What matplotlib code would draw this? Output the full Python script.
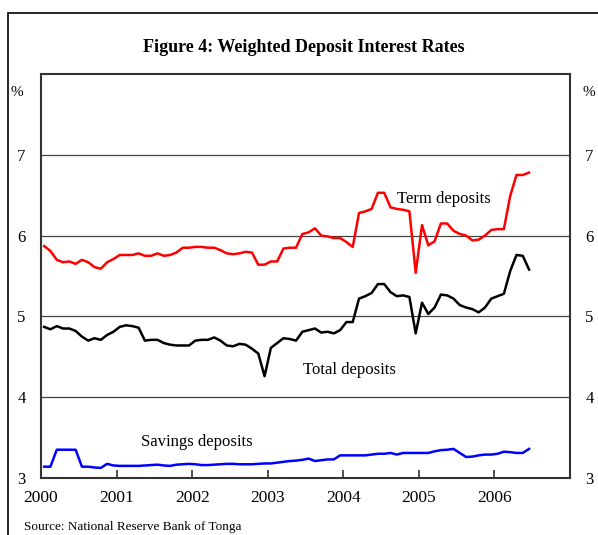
import numpy as np
import matplotlib.pyplot as plt
from matplotlib.patches import Rectangle

# monthly, Jan 2000 - Jun 2006
term = [5.87, 5.81, 5.70, 5.67, 5.68, 5.65, 5.70, 5.67, 5.61, 5.59, 5.67, 5.71,
        5.76, 5.76, 5.76, 5.78, 5.75, 5.75, 5.78, 5.75, 5.76, 5.79, 5.85, 5.85,
        5.86, 5.86, 5.85, 5.85, 5.82, 5.78, 5.77, 5.78, 5.80, 5.79, 5.64, 5.64,
        5.68, 5.68, 5.84, 5.85, 5.85, 6.02, 6.04, 6.09, 6.00, 5.99, 5.97, 5.97,
        5.92, 5.86, 6.28, 6.30, 6.33, 6.53, 6.53, 6.35, 6.33, 6.32, 6.30, 5.54,
        6.13, 5.88, 5.93, 6.15, 6.15, 6.06, 6.02, 6.00, 5.94, 5.95, 6.00, 6.07,
        6.08, 6.08, 6.49, 6.75, 6.75, 6.78]
total = [4.87, 4.84, 4.88, 4.85, 4.85, 4.82, 4.75, 4.70, 4.73, 4.71, 4.77, 4.81,
         4.87, 4.89, 4.88, 4.86, 4.70, 4.71, 4.71, 4.67, 4.65, 4.64, 4.64, 4.64,
         4.70, 4.71, 4.71, 4.74, 4.70, 4.64, 4.63, 4.66, 4.65, 4.60, 4.54, 4.26,
         4.61, 4.67, 4.73, 4.72, 4.70, 4.81, 4.83, 4.85, 4.80, 4.81, 4.79, 4.83,
         4.93, 4.93, 5.22, 5.25, 5.29, 5.40, 5.40, 5.30, 5.25, 5.26, 5.24, 4.79,
         5.17, 5.03, 5.11, 5.27, 5.26, 5.22, 5.14, 5.11, 5.09, 5.05, 5.11, 5.22,
         5.25, 5.28, 5.56, 5.76, 5.75, 5.58]
savings = [3.14, 3.14, 3.35, 3.35, 3.35, 3.35, 3.14, 3.14, 3.13, 3.125, 3.175, 3.155,
           3.15, 3.15, 3.15, 3.15, 3.155, 3.16, 3.165, 3.155, 3.15, 3.165, 3.17, 3.175,
           3.17, 3.16, 3.16, 3.165, 3.17, 3.175, 3.175, 3.17, 3.17, 3.17, 3.175, 3.18,
           3.18, 3.19, 3.20, 3.21, 3.215, 3.225, 3.24, 3.21, 3.22, 3.23, 3.23, 3.28,
           3.28, 3.28, 3.28, 3.28, 3.29, 3.30, 3.30, 3.31, 3.29, 3.31, 3.31, 3.31,
           3.31, 3.31, 3.33, 3.345, 3.35, 3.36, 3.31, 3.26, 3.265, 3.28, 3.29, 3.29,
           3.30, 3.325, 3.32, 3.31, 3.31, 3.36]
years = [2000, 2001, 2002, 2003, 2004, 2005, 2006]
yticks = [3, 4, 5, 6, 7]

t = 2000 + (np.arange(len(term)) + 0.5) / 12

plt.rcParams['font.family'] = 'Liberation Serif'

fig = plt.figure(figsize=(5.98, 5.35), dpi=100)
ax = fig.add_axes([41 / 598, 57 / 535, 529 / 598, 404 / 535])

ax.plot(t, term, color='#ff0000', lw=1.8)
ax.plot(t, total, color='black', lw=1.8)
ax.plot(t, savings, color='#0000ff', lw=1.8)

ax.set_xlim(2000, 2007)
ax.set_ylim(3, 8)
ax.set_yticks(yticks)
for y in [4, 5, 6, 7]:
    ax.axhline(y, color='#444444', lw=0.9, zorder=0)
ax.tick_params(axis='y', length=0, labelsize=12, pad=11, labelright=True)
ax.set_xticks(years)
ax.set_xticklabels([str(y) for y in years])
ax.tick_params(axis='x', direction='in', length=6, width=1.2, color='#333333',
               labelsize=12.5, pad=9)
for s in ax.spines.values():
    s.set_color('#333333')
    s.set_linewidth(1.5)

ax.text(-0.045, 0.955, '%', transform=ax.transAxes, fontsize=11, ha='center', va='center')
ax.text(1.035, 0.955, '%', transform=ax.transAxes, fontsize=11, ha='center', va='center')

ax.text(2004.71, 6.45, 'Term deposits', fontsize=12, ha='left', va='center')
ax.text(2003.47, 4.34, 'Total deposits', fontsize=12, ha='left', va='center')
ax.text(2001.32, 3.45, 'Savings deposits', fontsize=12, ha='left', va='center')

fig.text(304 / 598, 1 - 48 / 535, 'Figure 4: Weighted Deposit Interest Rates',
         fontsize=13, fontweight='bold', ha='center', va='center')
fig.text(24 / 598, 1 - 527 / 535, 'Source: National Reserve Bank of Tonga',
         fontsize=9.5, ha='left', va='center')

fig.patches.append(Rectangle((8 / 598, -0.1), 1.2, 1 - 13 / 535 + 0.1,
                             transform=fig.transFigure, fill=False,
                             edgecolor='black', lw=1.2))

fig.savefig('out.png', dpi=100)
